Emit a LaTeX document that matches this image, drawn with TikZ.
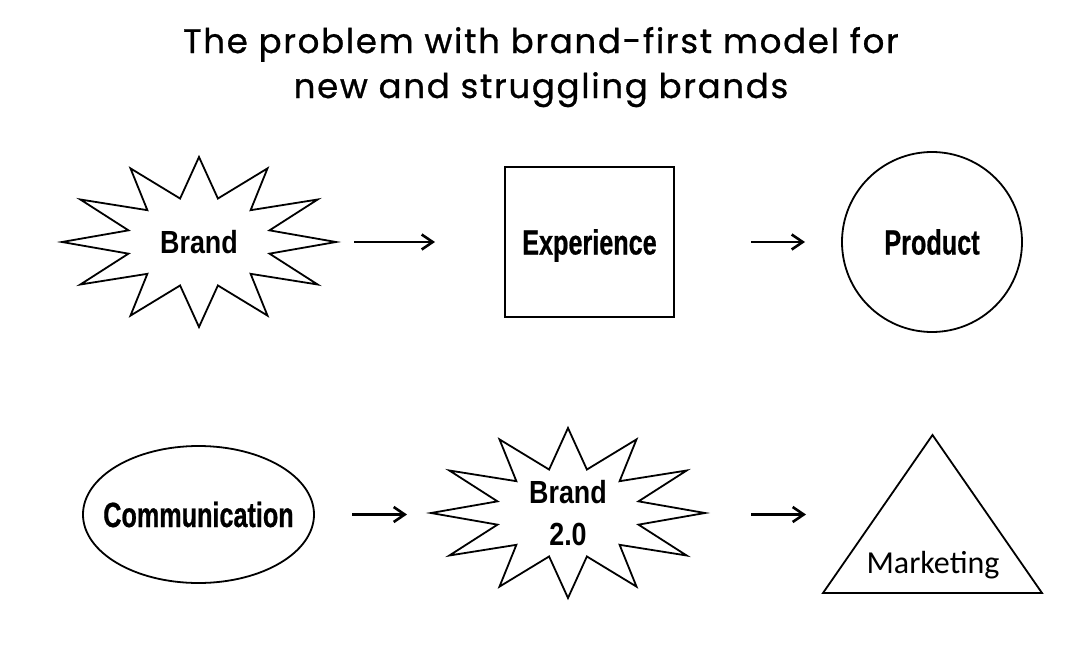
\documentclass[tikz,border=0pt]{standalone}
\usepackage{fontspec}
\setmainfont{Liberation Sans}
\newfontfamily\condbold{Liberation Sans Bold}[FakeStretch=0.72,FakeBold=0.6]
\newfontfamily\brandfont{Liberation Sans Bold}[FakeStretch=0.84]
\newfontfamily\carlfont{Carlito}
\newfontfamily\titlefont{Poppins}[LetterSpace=5,FakeBold=0.8]
\usetikzlibrary{shapes.geometric,arrows.meta}
\tikzset{
  shapeline/.style={draw=black, line width=1.8pt},
  arr/.style={draw=black, line width=2.6pt, -{Straight Barb[length=11pt,width=15pt,line width=2.6pt]}},
  condlabel/.style={font=\condbold\fontsize{35}{40}\selectfont, text=black, text height=25pt, text depth=0pt},
  brandlabel/.style={font=\brandfont\fontsize{32}{42}\selectfont, text=black, align=center},
  holder/.style={inner sep=0pt, outer sep=0pt},
  titletext/.style={font=\titlefont\fontsize{34}{40}\selectfont, anchor=base, inner sep=0pt},
  starburst/.pic={
    \draw[shapeline, line join=miter] (90:137 and 85)
      \foreach \i [evaluate=\i as \rx using {ifthenelse(mod(\i,2)==0,137,73)},
                   evaluate=\i as \ry using {ifthenelse(mod(\i,2)==0,85,45)}] in {1,...,23}
        { -- ({90+15*\i}:{\rx} and {\ry}) } -- cycle;
  }
}
\begin{document}
\begin{tikzpicture}[x=1pt, y=-1pt]
\useasboundingbox (0,0) rectangle (1080,648);
\fill[white] (0,0) rectangle (1080,648);

% title
\node[titletext] (title1) at (541,53) {The problem with brand-first model for};
\node[titletext] (title2) at (541,98) {new and struggling brands};

% row 1
\pic at (199,242) {starburst};
\node[holder, minimum width=274pt, minimum height=170pt, brandlabel] (brand) at (199,242) {Brand};
\node[shapeline, holder, minimum width=169pt, minimum height=150pt, condlabel] (exp) at (589.5,242) {Experience};
\node[shapeline, holder, circle, minimum size=180pt, condlabel] (prod) at (932,242) {Product};

% row 2
\node[holder, minimum width=231pt, minimum height=137pt, condlabel] (comm) at (198.5,514.5) {Communication};
\draw[shapeline] (comm.center) ellipse [x radius=115.5pt, y radius=68.5pt];
\pic at (568,513) {starburst};
\node[holder, minimum width=274pt, minimum height=170pt, brandlabel] (brandtwo) at (568,513) {Brand\\2.0};
\node[holder, minimum width=219pt, minimum height=158pt] (tri) at (932.5,514) {};
\draw[shapeline, line join=miter] (tri.south west) -- (tri.north) -- (tri.south east) -- cycle;
\node[font=\carlfont\fontsize{32}{38}\selectfont, anchor=base, inner sep=0pt] (mlabel) at (933,573) {Marketing};

% arrows
\draw[arr, shorten <=18pt, shorten >=70pt] (brand.east) -- (exp.west);
\draw[arr, shorten <=77pt, shorten >=37pt] (exp.east) -- (prod.west);
\draw[arr, shorten <=38pt, shorten >=24pt] (comm.east) -- (brandtwo.west |- comm.east);
\draw[arr, shorten <=46pt, shorten >=17pt] (brandtwo.east |- comm.east) -- (tri.west |- comm.east);
\end{tikzpicture}
\end{document}
